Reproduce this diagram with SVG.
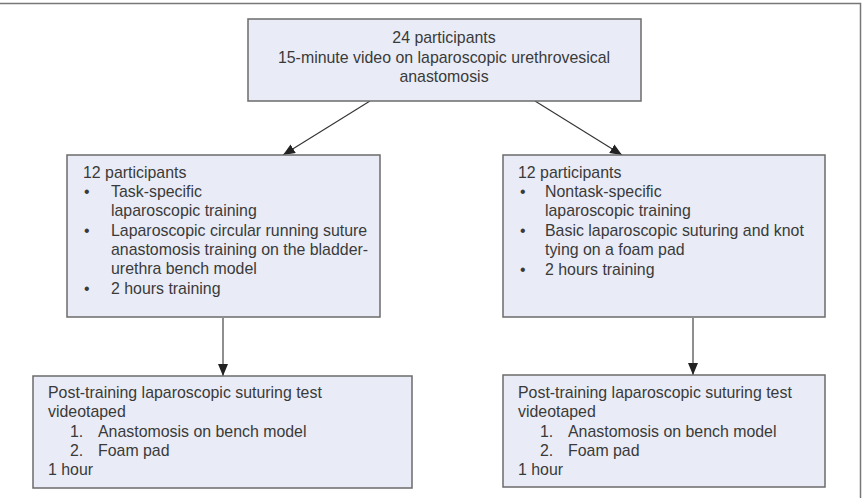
<svg xmlns="http://www.w3.org/2000/svg" width="862" height="498" viewBox="0 0 862 498">
<defs>
<style>
.box{fill:#E9ECF6;stroke:#6b6b6b;stroke-width:1.5}
.t{font-family:"Liberation Sans",Arial,sans-serif;font-size:15.9px;fill:#3a3a3a}
.c{text-anchor:middle}
.conn{stroke:#333;stroke-width:1.1;fill:none;marker-end:url(#ah)}
.frame{stroke:#777;stroke-width:1.5;fill:none}
</style>
<marker id="ah" viewBox="0 0 12 10" refX="12" refY="5" markerWidth="12" markerHeight="10" markerUnits="userSpaceOnUse" orient="auto">
<path d="M0,0 L12,5 L0,10 z" fill="#222"/>
</marker>
</defs>
<rect width="862" height="498" fill="#fff"/>
<path class="frame" d="M0,3.5 H860.5 V498"/>
<g id="connectors">
<line class="conn" x1="370" y1="101" x2="283" y2="155"/>
<line class="conn" x1="535" y1="101" x2="622" y2="155"/>
<line class="conn" x1="223" y1="318" x2="223" y2="376"/>
<line class="conn" x1="693" y1="318" x2="693" y2="375"/>
</g>
<g id="top">
<rect class="box" x="248" y="19" width="393" height="82"/>
<text class="t c" x="444" y="43">24 participants</text>
<text class="t c" x="444" y="63">15-minute video on laparoscopic urethrovesical</text>
<text class="t c" x="444" y="82">anastomosis</text>
</g>
<g id="left-group">
<rect class="box" x="67" y="155" width="313" height="162"/>
<text class="t" x="83" y="178">12 participants</text>
<text class="t" x="84" y="197">•</text>
<text class="t" x="111" y="197">Task-specific</text>
<text class="t" x="111" y="216">laparoscopic training</text>
<text class="t" x="84" y="236">•</text>
<text class="t" x="111" y="236">Laparoscopic circular running suture</text>
<text class="t" x="111" y="255">anastomosis training on the bladder-</text>
<text class="t" x="111" y="274">urethra bench model</text>
<text class="t" x="84" y="294">•</text>
<text class="t" x="111" y="294">2 hours training</text>
</g>
<g id="right-group">
<rect class="box" x="503" y="155" width="322" height="162"/>
<text class="t" x="518" y="178">12 participants</text>
<text class="t" x="520" y="197">•</text>
<text class="t" x="545" y="197">Nontask-specific</text>
<text class="t" x="545" y="216">laparoscopic training</text>
<text class="t" x="520" y="236">•</text>
<text class="t" x="545" y="236">Basic laparoscopic suturing and knot</text>
<text class="t" x="545" y="255">tying on a foam pad</text>
<text class="t" x="520" y="275">•</text>
<text class="t" x="545" y="275">2 hours training</text>
</g>
<g id="left-test">
<rect class="box" x="33" y="376" width="379" height="112"/>
<text class="t" x="48" y="398">Post-training laparoscopic suturing test</text>
<text class="t" x="48" y="417">videotaped</text>
<text class="t" x="70" y="437">1.</text>
<text class="t" x="98" y="437">Anastomosis on bench model</text>
<text class="t" x="70" y="456">2.</text>
<text class="t" x="98" y="456">Foam pad</text>
<text class="t" x="48" y="475">1 hour</text>
</g>
<g id="right-test">
<rect class="box" x="503" y="375" width="322" height="112"/>
<text class="t" x="518" y="398">Post-training laparoscopic suturing test</text>
<text class="t" x="518" y="417">videotaped</text>
<text class="t" x="540" y="437">1.</text>
<text class="t" x="568" y="437">Anastomosis on bench model</text>
<text class="t" x="540" y="456">2.</text>
<text class="t" x="568" y="456">Foam pad</text>
<text class="t" x="518" y="475">1 hour</text>
</g>
</svg>
